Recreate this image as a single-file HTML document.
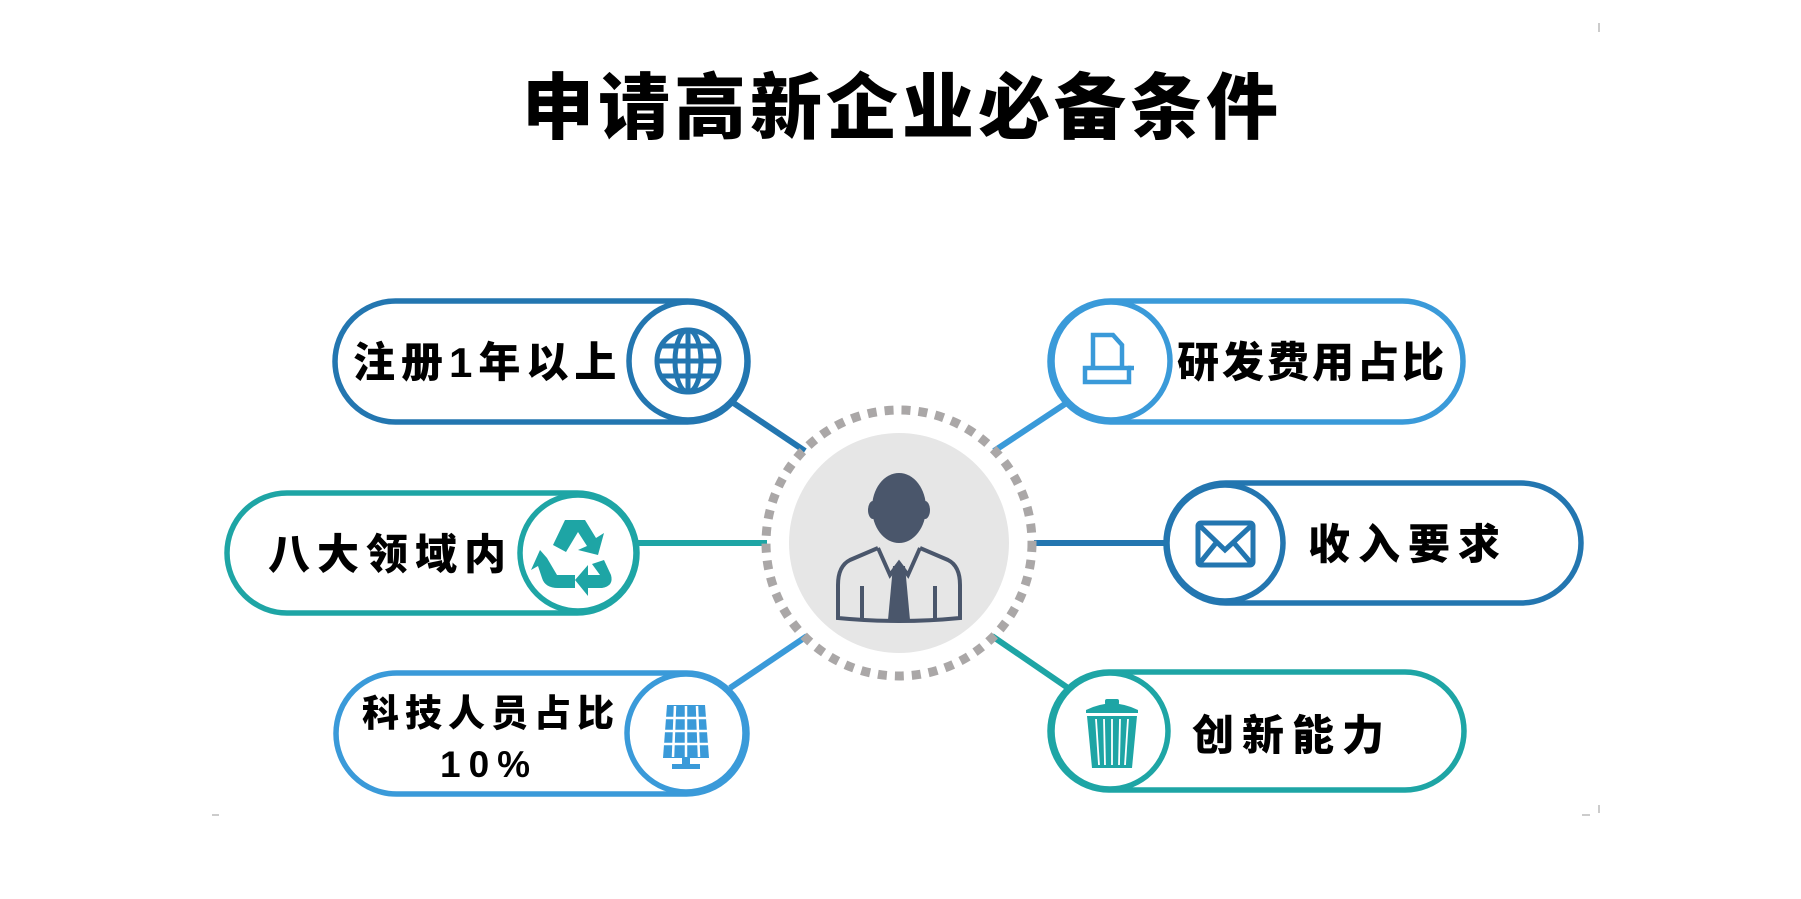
<!DOCTYPE html>
<html><head><meta charset="utf-8"><style>
html,body{margin:0;padding:0;background:#fff;}
svg{display:block}
text{font-family:"Liberation Sans","Noto Sans CJK SC",sans-serif;font-weight:900;fill:#000;}
</style></head><body>
<svg width="1801" height="899" viewBox="0 0 1801 899" xmlns="http://www.w3.org/2000/svg">
<text x="902" y="133" font-size="72" text-anchor="middle" letter-spacing="4">申请高新企业必备条件</text>

<g stroke-width="6">
<line x1="732" y1="402" x2="805" y2="451" stroke="#2376b0"/>
<line x1="1068" y1="402" x2="994" y2="451" stroke="#3a9ad9"/>
<line x1="637" y1="543" x2="767" y2="543" stroke="#1ea5a5"/>
<line x1="1034" y1="543" x2="1166" y2="543" stroke="#2376b0"/>
<line x1="730" y1="688" x2="807" y2="636" stroke="#3a9ad9"/>
<line x1="1068" y1="688" x2="992" y2="636" stroke="#1ea5a5"/>
</g>

<circle cx="899" cy="543" r="133" fill="none" stroke="#aaa7a7" stroke-width="9" stroke-dasharray="9 8"/>
<circle cx="899" cy="543" r="110" fill="#e6e6e6"/>
<g fill="#4a566b">
<ellipse cx="899" cy="508" rx="27" ry="35"/>
<ellipse cx="873" cy="510" rx="5" ry="9"/><ellipse cx="925" cy="510" rx="5" ry="9"/>
<path d="M893 566 L905 566 L910 620 L888 620 Z"/>
</g>
<g fill="none" stroke="#4a566b" stroke-width="4">
<path d="M878 548 L850 560 Q838 566 838 585 L838 618 Q899 624 960 618 L960 585 Q960 566 948 560 L920 548"/>
<path d="M878 548 L890 575 L899 563 L908 575 L920 548"/>
<line x1="862" y1="586" x2="862" y2="620"/><line x1="935" y1="586" x2="935" y2="620"/>
</g>

<g fill="#fff" stroke="#2376b0" stroke-width="5.5">
<rect x="335" y="301" width="413" height="121" rx="60.5"/>
<circle cx="688" cy="361" r="59"/>
</g>
<text x="353" y="377" font-size="42" letter-spacing="6">注册1年以上</text>
<g fill="none" stroke="#2376b0" stroke-width="5">
<circle cx="688" cy="361" r="31"/>
<ellipse cx="688" cy="361" rx="13" ry="31"/>
<line x1="688" y1="330" x2="688" y2="392"/>
<line x1="657" y1="361" x2="719" y2="361"/>
<line x1="661" y1="346" x2="715" y2="346"/><line x1="661" y1="376" x2="715" y2="376"/>
</g>

<g fill="#fff" stroke="#3a9ad9" stroke-width="5.5">
<rect x="1050" y="301" width="413" height="121" rx="60.5"/>
<circle cx="1111" cy="361" r="59"/>
</g>
<text x="1177" y="377" font-size="42" letter-spacing="3">研发费用占比</text>
<g fill="none" stroke="#3a9ad9" stroke-width="4.5">
<path d="M1093 335 L1113 335 L1122 345 L1122 372 L1093 372 Z"/>
<rect x="1085" y="368" width="44" height="14" fill="#fff"/>
<line x1="1128" y1="368" x2="1134" y2="368"/>
</g>

<g fill="#fff" stroke="#1ea5a5" stroke-width="5.5">
<rect x="227" y="493" width="410" height="120" rx="60"/>
<circle cx="578" cy="553" r="58"/>
</g>
<text x="268" y="569" font-size="42" letter-spacing="7">八大领域内</text>
<g fill="#1ea5a5">
<path d="M565 520 L585 520 L596 538 L604 533 L598 555 L578 550 L587 546 L578 532 L566 552 L553 545 Z"/>
<path d="M547 558 L557 575 L575 575 L575 588 L558 588 Q545 588 542 578 L538 566 L531 570 L540 550 Z"/>
<path d="M604 560 L611 575 Q614 586 602 588 L588 588 L588 596 L575 580 L588 565 L588 575 L600 575 L592 564 Z"/>
</g>

<g fill="#fff" stroke="#2376b0" stroke-width="5.5">
<rect x="1166" y="483" width="415" height="120" rx="60"/>
<circle cx="1225" cy="543" r="58"/>
</g>
<text x="1308" y="559" font-size="42" letter-spacing="8">收入要求</text>
<g fill="none" stroke="#2376b0" stroke-width="5">
<rect x="1198" y="523" width="55" height="42" rx="3"/>
<path d="M1199 525 L1225 550 L1252 525 M1199 564 L1216 543 M1252 564 L1234 543"/>
</g>

<g fill="#fff" stroke="#3a9ad9" stroke-width="5.5">
<rect x="336" y="673" width="411" height="121" rx="60.5"/>
<circle cx="686" cy="733" r="59"/>
</g>
<text x="362" y="726" font-size="37" letter-spacing="6">科技人员占比</text>
<text x="440" y="777" font-size="37" letter-spacing="8">10%</text>
<g fill="#3a9ad9">
<path d="M667 705 L705 705 L709 758 L663 758 Z"/>
<rect x="682" y="758" width="8" height="8"/>
<rect x="672" y="764" width="28" height="5"/>
</g>
<g stroke="#fff" stroke-width="2.5">
<line x1="675" y1="706" x2="673" y2="757"/><line x1="686" y1="706" x2="686" y2="757"/><line x1="697" y1="706" x2="699" y2="757"/>
<line x1="666" y1="718" x2="706" y2="718"/><line x1="665" y1="731" x2="707" y2="731"/><line x1="664" y1="744" x2="708" y2="744"/>
</g>

<g fill="#fff" stroke="#1ea5a5" stroke-width="5.5">
<rect x="1050" y="672" width="414" height="118" rx="59"/>
<circle cx="1110" cy="731" r="58"/>
</g>
<text x="1192" y="750" font-size="42" letter-spacing="8">创新能力</text>
<g fill="#1ea5a5">
<rect x="1105" y="699" width="14" height="6" rx="2"/>
<path d="M1086 710 Q1112 697 1138 710 L1138 713 L1086 713 Z"/>
<path d="M1087 716 L1137 716 L1132 768 L1092 768 Z"/>
</g>
<g stroke="#fff" stroke-width="1.8">
<line x1="1096" y1="719" x2="1099" y2="765"/><line x1="1104" y1="719" x2="1105" y2="765"/><line x1="1112" y1="719" x2="1112" y2="765"/><line x1="1120" y1="719" x2="1119" y2="765"/><line x1="1128" y1="719" x2="1125" y2="765"/>
</g>

<g stroke="#999" stroke-width="1">
<line x1="1599" y1="23" x2="1599" y2="32"/>
<line x1="1599" y1="805" x2="1599" y2="813"/>
<line x1="212" y1="815" x2="219" y2="815"/>
<line x1="1582" y1="815" x2="1590" y2="815"/>
</g>
</svg>
</body></html>
